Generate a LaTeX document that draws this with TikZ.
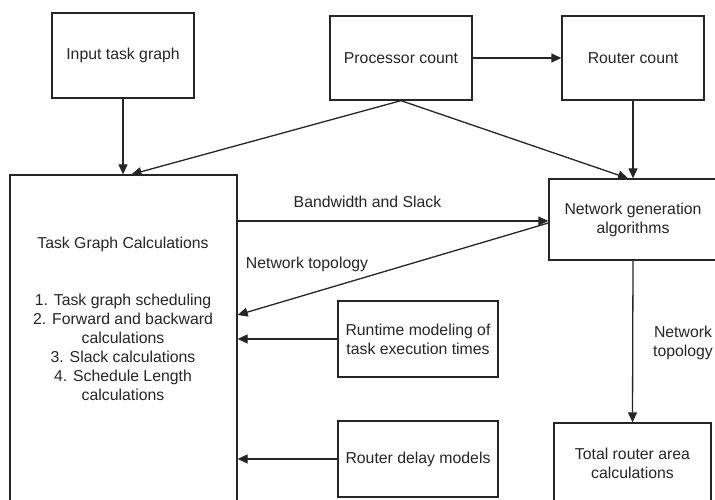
\documentclass[tikz,border=0pt]{standalone}
\usepackage{fontspec}
\setmainfont{Liberation Sans}
\usetikzlibrary{arrows.meta}
\begin{document}
\begin{tikzpicture}[x=1pt,y=-1pt,
  every node/.style={font=\fontsize{15.8pt}{19pt}\selectfont, text=black!85},
  box/.style={draw=black!85, line width=1.3pt, rectangle, inner sep=0pt, align=center},
  arr/.style={draw=black!85, line width=1.3pt, -{Triangle[length=10pt,width=9pt]}},
  lbl/.style={align=center, inner sep=0pt}]
\useasboundingbox (0,0) rectangle (715,500);
\clip (0,0) rectangle (715,500);
\fill[white] (0,0) rectangle (715,500);

\node[box, minimum width=142pt, minimum height=85pt] (inp) at (123,55.5) {Input task graph};
\node[box, minimum width=142pt, minimum height=84pt] (proc) at (401,58) {Processor count};
\node[box, minimum width=142pt, minimum height=84pt] (rout) at (633,58) {Router count};
\node[box, minimum width=227pt, minimum height=345pt] (tgc) at (123.5,347.5) {};
\node[lbl] (tgct) at (123,244) {Task Graph Calculations};
\node[lbl] (tgcl) at (123,347.5) {1. Task graph scheduling\\2. Forward and backward\\calculations\\3. Slack calculations\\4. Schedule Length\\calculations};
\node[box, minimum width=168pt, minimum height=81pt] (nga) at (633,219.5) {Network generation\\algorithms};
\node[box, minimum width=160pt, minimum height=76pt] (rt) at (418,339) {Runtime modeling of\\task execution times};
\node[box, minimum width=160pt, minimum height=76pt] (rd) at (418,459) {Router delay models};
\node[box, minimum width=157pt, minimum height=80pt] (tot) at (632.5,463) {Total router area\\calculations};

\coordinate (yb) at (0,221);
\coordinate (ynt) at (0,223);
\coordinate (ynte) at (0,315);

\draw[arr] (inp.south) -- (inp.south |- tgc.north);
\draw[arr] (proc.south) -- ([xshift=8pt]tgc.north);
\draw[arr] (proc.south) -- ([xshift=-5pt]nga.north);
\draw[arr] (proc.east) -- (rout.west);
\draw[arr] (rout.south) -- (nga.north);
\draw[arr] (tgc.east |- yb) -- (nga.west |- yb);
\draw[arr] (nga.west |- ynt) -- (tgc.east |- ynte);
\draw[arr] (rt.west) -- (rt.west -| tgc.east);
\draw[arr] (rd.west) -- (rd.west -| tgc.east);
\draw[arr] (nga.south) -- (tot.north);

\node[lbl] (l1) at (367.5,202) {Bandwidth and Slack};
\node[lbl] (l2) at (307,264) {Network topology};
\node[lbl] (l3) at (683,343) {Network\\topology};
\end{tikzpicture}
\end{document}
